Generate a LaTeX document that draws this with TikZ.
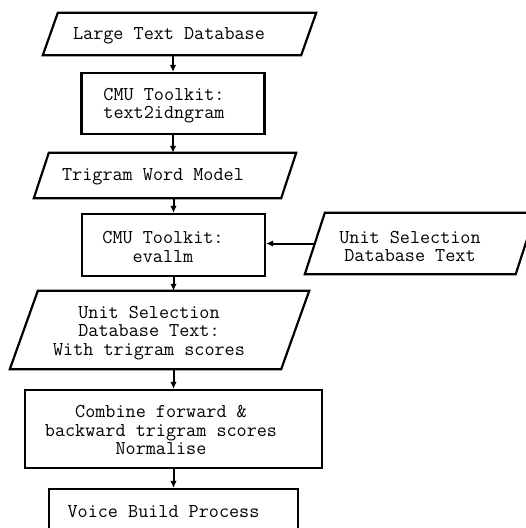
\documentclass[tikz,border=0pt]{standalone}
\usepackage{fontspec}
\usetikzlibrary{arrows.meta,calc}
\tikzset{
  box/.style={draw, line width=2.2pt, inner sep=0pt, fill=none},
  area/.style={draw=none, inner sep=0pt},
  txt/.style={font=\ttfamily\fontsize{19.6}{18.2}\selectfont, align=center, inner sep=0pt, anchor=center},
  arr/.style={line width=2pt, -{Latex[length=7pt,width=6.5pt]}},
}
\newcommand\drawpara[2]{\draw[line width=2.2pt, line join=miter]
  ([xshift=#2]#1.north west) -- ([xshift=#2]#1.north east) --
  ([xshift=-#2]#1.south east) -- ([xshift=-#2]#1.south west) -- cycle;}
\begin{document}
\begin{tikzpicture}[x=1pt,y=-1pt]
\useasboundingbox (0,0) rectangle (526,528);
\clip (0,0) rectangle (526,528);
% shapes
\node[area, minimum width=258pt, minimum height=42pt] (p1) at (179.5,34) {};
\node[box, minimum width=183pt, minimum height=61pt] (b2) at (173,103.5) {};
\node[area, minimum width=247pt, minimum height=45pt] (p3) at (165,175.5) {};
\node[box, minimum width=183pt, minimum height=62pt] (b4) at (173.5,245) {};
\node[area, minimum width=210.5pt, minimum height=61pt] (p5) at (420.25,243.5) {};
\node[area, minimum width=271pt, minimum height=78pt] (p6) at (159.5,330) {};
\node[box, minimum width=297pt, minimum height=78pt] (b7) at (173.5,429) {};
\node[box, minimum width=249pt, minimum height=48pt] (b8) at (173.5,513) {};
\drawpara{p1}{7.5pt}
\drawpara{p3}{7.5pt}
\drawpara{p5}{10pt}
\drawpara{p6}{14pt}
% texts
\node[txt] (t1) at (169,36) {Large Text Database};
\node[txt] (t2) at (164,106) {CMU Toolkit:\\text2idngram};
\node[txt] (t3) at (153,177) {Trigram Word Model};
\node[txt] (t4) at (163,247) {CMU Toolkit:\\evallm};
\node[txt] (t5) at (410,246.5) {Unit Selection\\Database Text};
\node[txt] (t6) at (149,333) {Unit Selection\\Database Text:\\With trigram scores};
\node[txt] (t7) at (161,430) {Combine forward \&\\backward trigram scores\\Normalise};
\node[txt] (t8) at (163.5,512) {Voice Build Process};
% connectors
\draw[arr] (b2.north |- p1.south) -- (b2.north);
\draw[arr] (b2.south) -- (b2.south |- p3.north);
\draw[arr] (b4.north |- p3.south) -- (b4.north);
\draw[arr] (p5.west) -- (p5.west -| b4.east);
\draw[arr] (b4.south) -- (b4.south |- p6.north);
\draw[arr] (b7.north |- p6.south) -- (b7.north);
\draw[arr] (b7.south) -- (b8.north);
\end{tikzpicture}
\end{document}
